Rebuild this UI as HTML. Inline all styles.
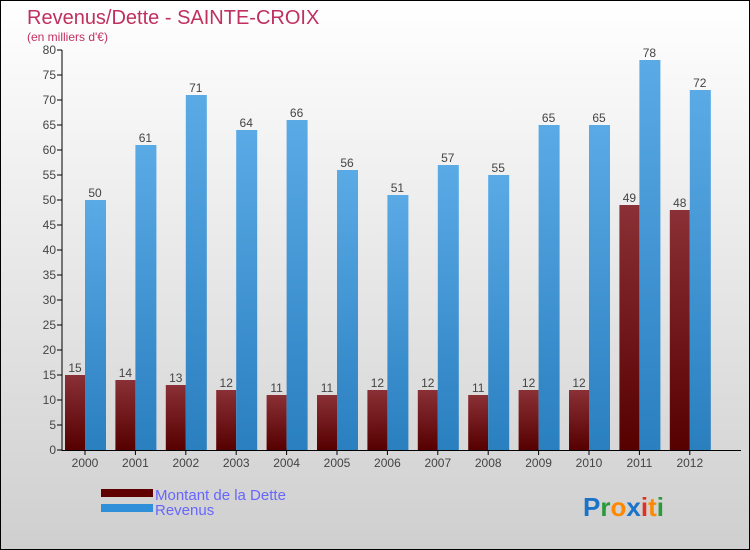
<!DOCTYPE html>
<html><head><meta charset="utf-8"><style>
body{margin:0}
#c{position:relative;width:748px;height:548px;border:1px solid #000;background:linear-gradient(#ffffff,#cfcfcf);font-family:"Liberation Sans",sans-serif;overflow:hidden}
</style></head><body>
<div id="c">
<svg width="748" height="548" xmlns="http://www.w3.org/2000/svg">
<defs>
<linearGradient id="gd" x1="0" y1="0" x2="0" y2="1"><stop offset="0" stop-color="#8a3036"/><stop offset="1" stop-color="#560000"/></linearGradient>
<linearGradient id="gr" x1="0" y1="0" x2="0" y2="1"><stop offset="0" stop-color="#5aaae6"/><stop offset="1" stop-color="#2a7fbf"/></linearGradient>
</defs>
<text x="26" y="23" font-size="20" fill="#c0305f">Revenus/Dette - SAINTE-CROIX</text>
<text x="26" y="40" font-size="12" fill="#c0305f">(en milliers d'€)</text>
<g id="plot"></g>
<rect x="100" y="488" width="52" height="8" fill="#600000"/>
<rect x="100" y="503" width="52" height="8" fill="#2f8fd9"/>
<text x="154" y="499" font-size="15" fill="#6666ff">Montant de la Dette</text>
<text x="154" y="514" font-size="15" fill="#6666ff">Revenus</text>
<text x="582" y="515" font-size="26" font-weight="bold"><tspan fill="#1a73c8">P</tspan><tspan fill="#2a9a3a">r</tspan><tspan fill="#ff8800">o</tspan><tspan fill="#1a73c8">x</tspan><tspan fill="#e03020">i</tspan><tspan fill="#ff8800">t</tspan><tspan fill="#2a9a3a">i</tspan></text>
</svg>
</div>
<script>
const years=["2000","2001","2002","2003","2004","2005","2006","2007","2008","2009","2010","2011","2012"];
const dette=[15,14,13,12,11,11,12,12,11,12,12,49,48];
const revenus=[50,61,71,64,66,56,51,57,55,65,65,78,72];
const yTicks=[0,5,10,15,20,25,30,35,40,45,50,55,60,65,70,75,80];
const NS="http://www.w3.org/2000/svg";
const g=document.getElementById('plot');
const y=v=>449-v*5;
const xc=i=>84+i*50.4;
function mk(t,a){const e=document.createElementNS(NS,t);for(const k in a)e.setAttribute(k,a[k]);g.appendChild(e);return e;}
yTicks.forEach(v=>{
 const l=mk('line',{x1:56,x2:61,y1:y(v),y2:y(v),stroke:'#000'});
 
 
 const t=mk('text',{x:55,y:y(v)+4,'font-size':12,'text-anchor':'end',fill:'#444'});t.textContent=v;
 
 
});
years.forEach((yr,i)=>{
 const c=xc(i);
 const b1=mk('rect',{x:c-20,y:y(dette[i]),width:20,height:dette[i]*5,fill:'url(#gd)'});
 
 
 const b2=mk('rect',{x:c,y:y(revenus[i]),width:21,height:revenus[i]*5,fill:'url(#gr)'});
 
 
 const t1=mk('text',{x:c-10,y:y(dette[i])-3,'font-size':12,'text-anchor':'middle',fill:'#444'});t1.textContent=dette[i];
 
 
 const t2=mk('text',{x:c+10,y:y(revenus[i])-3,'font-size':12,'text-anchor':'middle',fill:'#444'});t2.textContent=revenus[i];
 
 
 const tk=mk('line',{x1:c,x2:c,y1:449,y2:454,stroke:'#000'});
 
 
 const xl=mk('text',{x:c,y:466,'font-size':12,'text-anchor':'middle',fill:'#444'});xl.textContent=yr;
 
 
});
const ya=mk('line',{x1:61,x2:61,y1:49,y2:450,stroke:'#000'});


const xa=mk('line',{x1:61,x2:740,y1:449.5,y2:449.5,stroke:'#000'});


</script>
</body></html>
